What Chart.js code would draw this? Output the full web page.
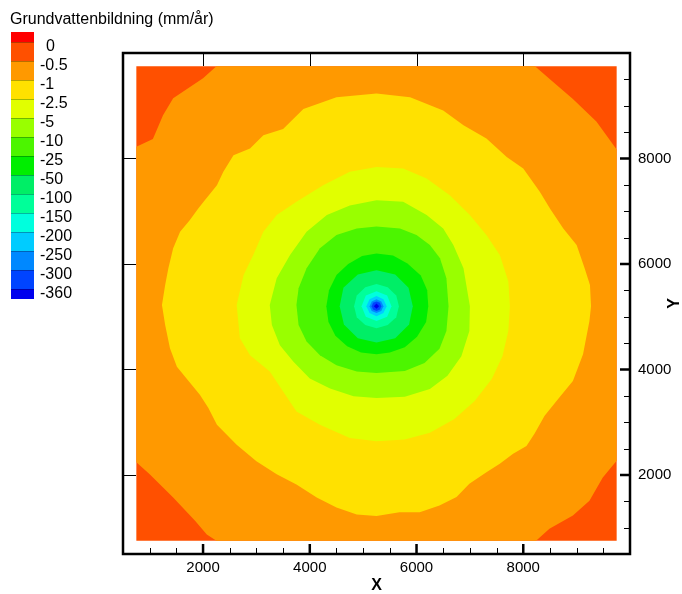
<!DOCTYPE html>
<html>
<head>
<meta charset="utf-8">
<script src="https://cdn.jsdelivr.net/npm/chart.js@4.4.1/dist/chart.umd.min.js"></script>
<style>
  html, body { margin: 0; padding: 0; background: #fff; }
  #wrap { position: relative; width: 682px; height: 594px; overflow: hidden;
          font-family: "Liberation Sans", Arial, Helvetica, sans-serif; color: #000; }
  #plot { position: absolute; left: 0; top: 0; }
  #legTitle { position: absolute; left: 10px; top: 11px; font-size: 16px; line-height: 16px; white-space: nowrap; }
  .sw { position: absolute; left: 11px; width: 23px; box-sizing: border-box; }
  .lab { position: absolute; font-size: 16px; line-height: 16px; white-space: nowrap; }
</style>
</head>
<body>
<div id="wrap">
  <canvas id="plot" width="682" height="594"></canvas>
  <div id="legTitle">Grundvattenbildning (mm/år)</div>
  <div id="legend"></div>
</div>
<script>
// Contour levels of groundwater recharge (mm/år) and the colour of each band
const levelLabels = ['0', '-0.5', '-1', '-2.5', '-5', '-10', '-25', '-50', '-100', '-150', '-200', '-250', '-300', '-360'];
const bandColors = ['#ff0000', '#ff5000', '#ff9900', '#ffe100', '#e1ff00', '#99ff00', '#4cf500',
                    '#00ee00', '#00ee66', '#00ff99', '#00ffdd', '#00ccff', '#0088ff', '#0044ff', '#0000ee'];

// Axis ticks and titles
const xMajorTicks = [2000, 4000, 6000, 8000];
const yMajorTicks = [2000, 4000, 6000, 8000];
const minorTicks = [1000, 1500, 2500, 3000, 3500, 4500, 5000, 5500, 6500, 7000, 7500, 8500, 9000, 9500];
const xTitle = 'X';
const yTitle = 'Y';

// Model domain
const domain = [[750, 750], [9750, 750], [9750, 9750], [750, 9750]];

// Contour outlines (x, y), outermost first; each encloses values below its level
const edgeM0_5 = [[2250, 9750], [8220, 9750], [8500, 9500], [8930, 9130], [9370, 8700], [9750, 8170],
  [9750, 2270], [9490, 1950], [9240, 1510], [8930, 1230], [8490, 980], [8240, 750],
  [2250, 750], [2070, 870], [1850, 1130], [1440, 1570], [1000, 2010], [750, 2240],
  [750, 8220], [1060, 8370], [1250, 8820], [1440, 9140], [2000, 9520]];

const edgeM1 = [[5250, 9230], [5880, 9160], [6500, 8910], [6880, 8630], [7310, 8380], [7690, 8030],
  [8000, 7810], [8310, 7370], [8500, 7050], [8750, 6670], [9000, 6360], [9150, 5920], [9250, 5600],
  [9270, 5200], [9240, 4920], [9120, 4290], [8930, 3780], [8680, 3470], [8400, 3120], [8210, 2780],
  [8060, 2550], [7810, 2400], [7560, 2210], [7310, 2050], [6990, 1830], [6750, 1580], [6430, 1420],
  [6060, 1290], [5680, 1290], [5250, 1220], [4880, 1250], [4500, 1380], [4130, 1570], [3750, 1820],
  [3380, 2010], [3000, 2260], [2630, 2570], [2260, 2950], [2100, 3270], [1940, 3520], [1690, 3830],
  [1510, 4050], [1380, 4400], [1290, 4840], [1230, 5220], [1290, 5600], [1350, 5920], [1440, 6300],
  [1570, 6610], [1750, 6830], [1910, 7050], [2010, 7180], [2260, 7490], [2380, 7750], [2570, 8060],
  [2880, 8190], [3130, 8440], [3500, 8560], [3880, 8940], [4500, 9160]];

const edgeM2_5 = [[5250, 7840], [5750, 7810], [6190, 7620], [6630, 7300], [7000, 6930], [7310, 6550],
  [7560, 6170], [7720, 5670], [7750, 5200], [7720, 4730], [7610, 4250], [7410, 3820], [7090, 3400],
  [6710, 3060], [6250, 2800], [5780, 2670], [5250, 2640], [4750, 2700], [4190, 2950], [3750, 3200],
  [3500, 3580], [3250, 3960], [2880, 4270], [2690, 4590], [2630, 5220], [2760, 5790], [2940, 6170],
  [3130, 6610], [3380, 6930], [3750, 7180], [4250, 7490], [4750, 7750]];

const edgeM5 = [[5250, 7210], [5750, 7180], [6190, 6930], [6500, 6670], [6690, 6360], [6880, 5920],
  [7000, 5200], [6990, 4730], [6840, 4250], [6580, 3880], [6250, 3630], [5780, 3480], [5250, 3460],
  [4820, 3490], [4380, 3640], [4000, 3830], [3690, 4150], [3440, 4460], [3290, 4840], [3250, 5220],
  [3380, 5730], [3630, 6170], [3940, 6610], [4320, 6930], [4750, 7110]];

const edgeM10 = [[5250, 6710], [5690, 6670], [6000, 6550], [6250, 6360], [6440, 6110], [6560, 5730],
  [6600, 5200], [6560, 4730], [6430, 4390], [6150, 4120], [5780, 3970], [5250, 3930], [4880, 3960],
  [4500, 4080], [4190, 4270], [3940, 4530], [3790, 4840], [3750, 5220], [3790, 5540], [3940, 5920],
  [4190, 6300], [4500, 6550], [4880, 6670]];

const edgeM25 = [[5250, 6200], [5560, 6160], [5830, 6010], [6080, 5780], [6200, 5500], [6220, 5200],
  [6180, 4900], [6010, 4620], [5780, 4420], [5500, 4320], [5250, 4290], [4960, 4320], [4700, 4440],
  [4480, 4640], [4350, 4900], [4310, 5200], [4360, 5500], [4500, 5790], [4720, 6000], [4980, 6150]];

const edgeM50 = [[5250, 5880], [5600, 5800], [5850, 5550], [5930, 5200], [5860, 4850], [5600, 4590],
  [5250, 4510], [4900, 4590], [4640, 4850], [4560, 5200], [4630, 5550], [4900, 5800]];

const edgeM100 = [[5250, 5620], [5460, 5560], [5620, 5400], [5670, 5200], [5620, 4990], [5460, 4840],
  [5250, 4780], [5040, 4840], [4880, 4990], [4830, 5200], [4880, 5400], [5040, 5560]];

const edgeM150 = [[5250, 5480], [5450, 5400], [5530, 5200], [5450, 5000], [5250, 4920], [5050, 5000],
  [4970, 5200], [5050, 5400]];

const edgeM200 = [[5250, 5390], [5380, 5330], [5440, 5200], [5380, 5070], [5250, 5010], [5120, 5070],
  [5060, 5200], [5120, 5330]];

const edgeM250 = [[5250, 5330], [5340, 5290], [5380, 5200], [5340, 5110], [5250, 5070], [5160, 5110],
  [5120, 5200], [5160, 5290]];

const edgeM300 = [[5250, 5290], [5315, 5265], [5340, 5200], [5315, 5135], [5250, 5110], [5185, 5135],
  [5160, 5200], [5185, 5265]];

const edgeM360 = [[5250, 5250], [5300, 5200], [5250, 5150], [5200, 5200]];

// Region outlines in drawing order, paired with the band colour painted inside each
const regions = [domain, edgeM0_5, edgeM1, edgeM2_5, edgeM5, edgeM10, edgeM25, edgeM50,
                 edgeM100, edgeM150, edgeM200, edgeM250, edgeM300, edgeM360];
const regionColors = bandColors.slice(1);

const FONT = '"Liberation Sans", Arial, Helvetica, sans-serif';

const datasets = regions.map((pts, i) => ({
  data: pts.concat([pts[0]]).map(([x, y]) => ({ x, y })),
  fill: 'shape',
  backgroundColor: regionColors[i],
  borderColor: regionColors[i],
  borderWidth: 0,
  pointRadius: 0,
  tension: 0,
  order: regions.length - i
}));

// Frame, inward tick marks and the vertical axis title (read bottom to top)
const framePlugin = {
  id: 'frame',
  afterDatasetsDraw(chart) {
    const { ctx, chartArea: a, scales: { x, y } } = chart;
    ctx.save();
    ctx.strokeStyle = '#000';
    ctx.lineCap = 'butt';

    ctx.lineWidth = 1;
    ctx.beginPath();
    xMajorTicks.forEach(v => {
      const px = Math.round(x.getPixelForValue(v)) + 0.5;
      ctx.moveTo(px, a.top); ctx.lineTo(px, a.top + 13);
    });
    yMajorTicks.forEach(v => {
      const py = Math.round(y.getPixelForValue(v)) + 0.5;
      ctx.moveTo(a.left, py); ctx.lineTo(a.left + 13, py);
    });
    minorTicks.forEach(v => {
      const px = Math.round(x.getPixelForValue(v)) + 0.5;
      ctx.moveTo(px, a.bottom); ctx.lineTo(px, a.bottom - 6);
      const py = Math.round(y.getPixelForValue(v)) + 0.5;
      ctx.moveTo(a.right, py); ctx.lineTo(a.right - 6, py);
    });
    ctx.stroke();

    ctx.lineWidth = 2.5;
    ctx.beginPath();
    xMajorTicks.forEach(v => {
      const px = x.getPixelForValue(v);
      ctx.moveTo(px, a.bottom); ctx.lineTo(px, a.bottom - 10);
    });
    yMajorTicks.forEach(v => {
      const py = y.getPixelForValue(v);
      ctx.moveTo(a.right, py); ctx.lineTo(a.right - 10, py);
    });
    ctx.stroke();

    ctx.lineWidth = 2.5;
    ctx.strokeRect(a.left, a.top, a.right - a.left, a.bottom - a.top);

    ctx.translate(y.right - 7, (a.top + a.bottom) / 2);
    ctx.rotate(-Math.PI / 2);
    ctx.fillStyle = '#000';
    ctx.font = 'bold 16px ' + FONT;
    ctx.textAlign = 'center';
    ctx.textBaseline = 'middle';
    ctx.fillText(yTitle, 0, 0);
    ctx.restore();
  }
};

new Chart(document.getElementById('plot'), {
  type: 'line',
  data: { datasets },
  options: {
    responsive: false,
    animation: false,
    events: [],
    layout: { padding: { left: 123, top: 53, right: 0, bottom: 0 } },
    plugins: {
      legend: { display: false },
      tooltip: { enabled: false },
      filler: { propagate: false }
    },
    scales: {
      x: {
        type: 'linear', position: 'bottom', min: 500, max: 10000,
        grid: { display: false, drawTicks: false },
        border: { display: false },
        ticks: { padding: 5, color: '#000', font: { family: FONT, size: 15 }, maxRotation: 0, autoSkip: false,
                 callback: v => String(v) },
        afterBuildTicks: s => { s.ticks = xMajorTicks.map(v => ({ value: v })); },
        afterFit: s => { s.height = 40; },
        title: { display: true, text: xTitle, color: '#000', font: { family: FONT, size: 16, weight: 'bold', lineHeight: 1 }, padding: 0 }
      },
      y: {
        type: 'linear', position: 'right', min: 500, max: 10000,
        grid: { display: false, drawTicks: false },
        border: { display: false },
        ticks: { padding: 8, color: '#000', font: { family: FONT, size: 15 }, autoSkip: false,
                 callback: v => String(v) },
        afterBuildTicks: s => { s.ticks = yMajorTicks.map(v => ({ value: v })); },
        afterFit: s => { s.width = 52; },
        title: { display: false }
      }
    }
  },
  plugins: [framePlugin]
});

// Colour legend: one swatch per band, level labels at the band boundaries
(function buildLegend() {
  const host = document.getElementById('legend');
  const top0 = 32, sep0 = 42.3, step = 19, n = levelLabels.length;
  const edges = [top0];
  for (let i = 0; i < n; i++) edges.push(sep0 + step * i);
  edges.push(sep0 + step * (n - 1) + 10);
  bandColors.forEach((c, i) => {
    const d = document.createElement('div');
    d.className = 'sw';
    const t = Math.round(edges[i]), b = Math.round(edges[i + 1]);
    d.style.top = t + 'px';
    d.style.height = (b - t) + 'px';
    d.style.background = c;
    d.style.borderTop = i > 0 ? '1px solid rgba(0,0,0,0.28)' : 'none';
    host.appendChild(d);
  });
  levelLabels.forEach((txt, i) => {
    const s = document.createElement('div');
    s.className = 'lab';
    s.textContent = txt;
    s.style.left = (txt.startsWith('-') ? 40 : 46) + 'px';
    s.style.top = Math.round(sep0 + step * i + 3.5 - 7.8) + 'px';
    host.appendChild(s);
  });
})();
</script>
</body>
</html>
